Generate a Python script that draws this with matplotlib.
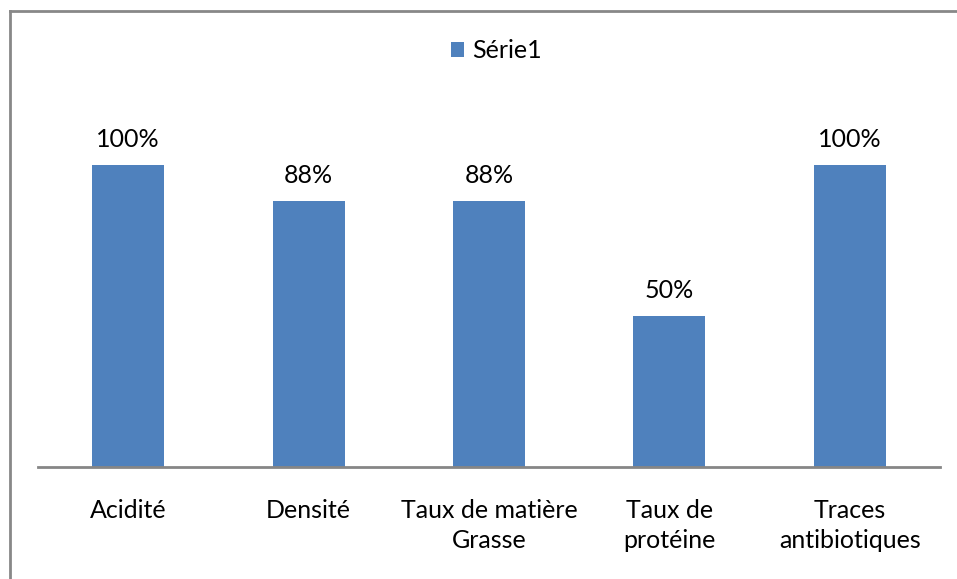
import matplotlib
matplotlib.use("Agg")
import matplotlib.pyplot as plt
from matplotlib.lines import Line2D
from matplotlib.patches import Patch

categories = ["Acidité", "Densité", "Taux de matière\nGrasse", "Taux de\nprotéine", "Traces\nantibiotiques"]
values = [1.00, 0.88, 0.88, 0.50, 1.00]
labels = ["100%", "88%", "88%", "50%", "100%"]
series_name = "Série1"

W, H = 957, 579
fig = plt.figure(figsize=(W / 100, H / 100), dpi=100)
plt.rcParams['font.family'] = ['Lato', 'DejaVu Sans']
FS = 18

bar_color = "#4F81BD"
x0, x1 = 38, 940
y_base = 467
y_top_val = 165  # pixel for 1.0
ymax = 1.2
y_axes_top = y_base - ymax * (y_base - y_top_val)
ax = fig.add_axes([x0 / W, 1 - y_base / H, (x1 - x0) / W, (y_base - y_axes_top) / H])

xs = list(range(len(categories)))
ax.bar(xs, values, width=0.4, color=bar_color, zorder=2)
ax.set_xlim(-0.5, len(categories) - 0.5)
ax.set_ylim(0, ymax)
for s in ["top", "right", "left"]:
    ax.spines[s].set_visible(False)
ax.spines["bottom"].set_color("#868686")
ax.spines["bottom"].set_linewidth(2)
ax.set_yticks([])
ax.set_xticks(xs)
ax.set_xticklabels(categories, fontsize=FS, color="black", linespacing=1.38)
ax.tick_params(axis="x", length=0, pad=23)

for x, v, lab in zip(xs, values, labels):
    ax.annotate(lab, (x, v), xytext=(0, 10), textcoords="offset points",
                ha="center", va="bottom", fontsize=FS, color="black")

handles = [Patch(facecolor=bar_color, label=series_name)]
fig.legend(handles=handles, loc="center", bbox_to_anchor=(496 / W, 1 - 51 / H),
           frameon=False, fontsize=FS, handlelength=0.55, handleheight=0.55,
           handletextpad=0.3, borderpad=0)

# outer border (left and top)
fig.add_artist(Line2D([10 / W, 10 / W], [0, 1 - 11 / H], transform=fig.transFigure,
                      color="#888888", linewidth=2))
fig.add_artist(Line2D([10 / W, 1], [1 - 11 / H, 1 - 11 / H], transform=fig.transFigure,
                      color="#888888", linewidth=2))

fig.savefig("out.png", dpi=100, facecolor="white")
